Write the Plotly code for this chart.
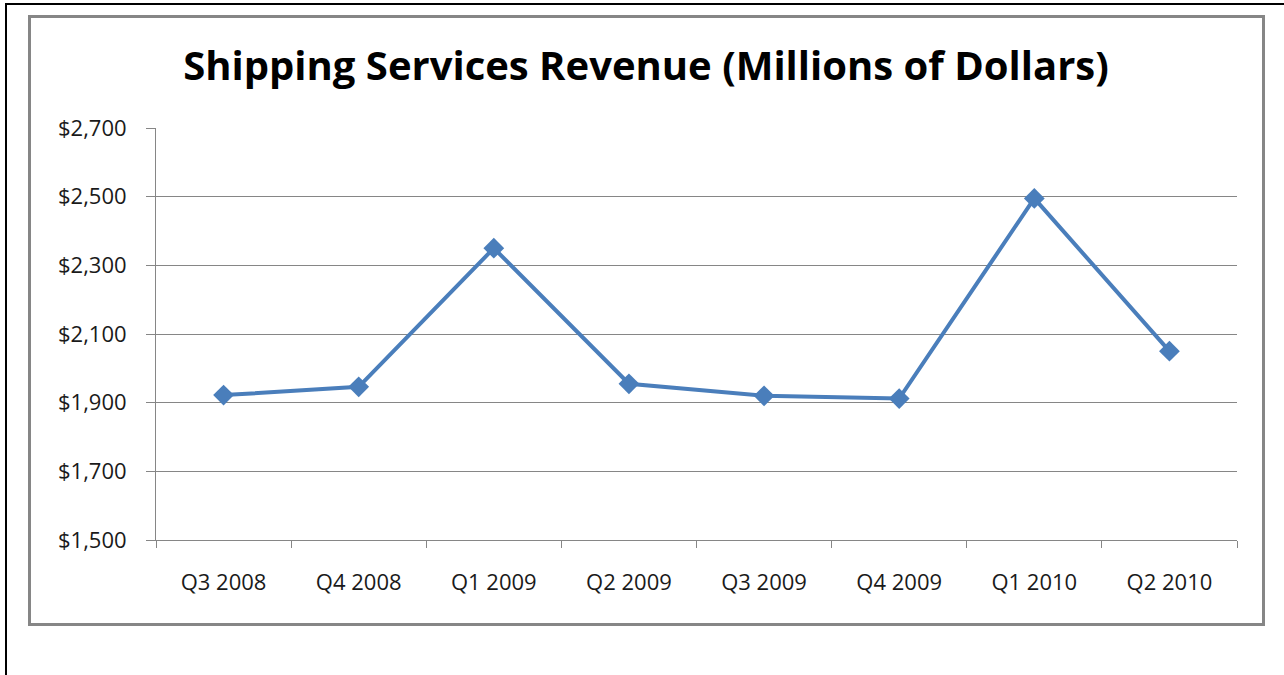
import plotly.graph_objects as go

quarters = ["Q3 2008", "Q4 2008", "Q1 2009", "Q2 2009", "Q3 2009", "Q4 2009", "Q1 2010", "Q2 2010"]
revenue = [1922, 1946, 2350, 1955, 1920, 1912, 2495, 2050]
y_ticks = [1500, 1700, 1900, 2100, 2300, 2500, 2700]
y_tick_labels = ["$1,500", "$1,700", "$1,900", "$2,100", "$2,300", "$2,500", "$2,700"]
title_text = "Shipping Services Revenue (Millions of Dollars)"

W, H = 1284, 675
L, R, T, B = 156, 47, 128, 135
PW, PH = W - L - R, H - T - B

def px(x):
    return (x - L) / PW

def py(y):
    return 1 - (y - T) / PH

blue = "#4A7EBB"
gray = "#868686"
FONT = "'Open Sans', Lato, sans-serif"

fig = go.Figure()
fig.add_trace(go.Scatter(
    x=quarters, y=revenue, mode="lines+markers",
    line=dict(color=blue, width=4),
    marker=dict(symbol="diamond", size=16, color=blue),
    showlegend=False, hoverinfo="x+y",
))

fig.update_layout(
    width=W, height=H,
    margin=dict(l=L, r=R, t=T, b=B),
    paper_bgcolor="white", plot_bgcolor="white",
    font=dict(family=FONT, color="#1a1a1a"),
    title=dict(text="<b>" + title_text + "</b>", x=646 / W, xanchor="center",
               y=1 - 66 / H, yanchor="middle",
               font=dict(size=40, color="black", family=FONT)),
    xaxis=dict(
        type="category", range=[-0.5, 7.5],
        showline=True, linecolor=gray, linewidth=1,
        ticks="outside", tickson="boundaries", ticklen=7, tickcolor=gray, tickwidth=1,
        showgrid=False, tickfont=dict(size=22), ticklabelstandoff=23,
    ),
    yaxis=dict(
        range=[1500, 2700], tickmode="array", tickvals=y_ticks, ticktext=y_tick_labels,
        showline=True, linecolor=gray, linewidth=1,
        ticks="outside", ticklen=9, tickcolor=gray, tickwidth=1,
        showgrid=True, gridcolor=gray, gridwidth=1, zeroline=False,
        tickfont=dict(size=22), ticklabelstandoff=15,
    ),
    shapes=[
        dict(type="rect", xref="paper", yref="paper",
             x0=px(29.5), x1=px(1263.5), y0=py(624.5), y1=py(16.5),
             line=dict(color=gray, width=3), layer="below"),
        dict(type="line", xref="paper", yref="paper",
             x0=px(6), x1=px(6), y0=py(4), y1=py(676),
             line=dict(color="black", width=2)),
        dict(type="line", xref="paper", yref="paper",
             x0=px(5), x1=px(1285), y0=py(4), y1=py(4),
             line=dict(color="black", width=2)),
    ],
)

fig.write_html("out.html")
